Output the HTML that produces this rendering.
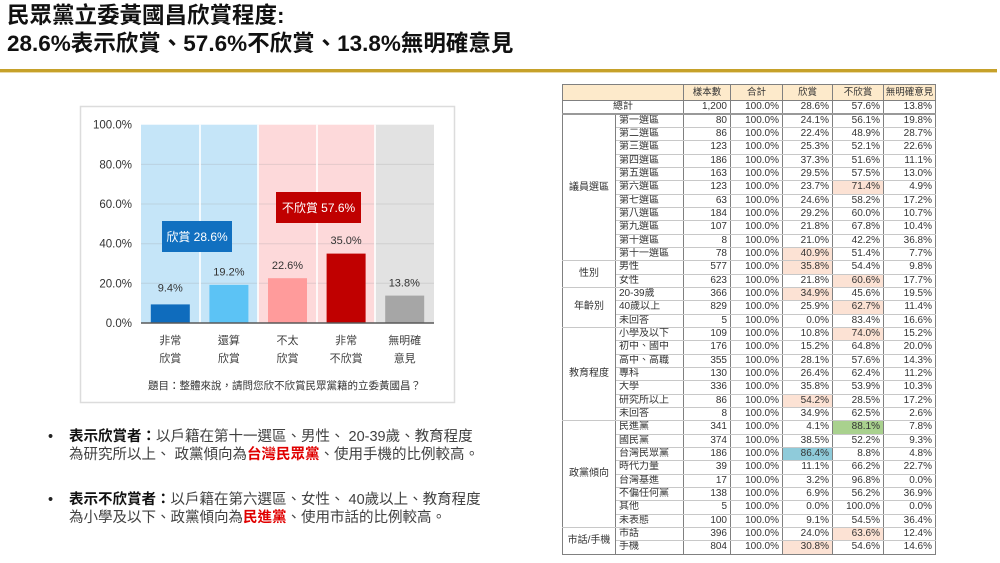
<!DOCTYPE html>
<html><head><meta charset="utf-8">
<style>
*{margin:0;padding:0;box-sizing:border-box}
body{width:1000px;height:563px;background:#fff;position:relative;overflow:hidden;font-family:"Liberation Sans","Noto Sans CJK TC",sans-serif}
.title{position:absolute;left:7px;top:2px;font-size:22.5px;line-height:28px;font-weight:bold;color:#111;white-space:nowrap;letter-spacing:0}
.gold{position:absolute;left:0;top:69px;width:997px;height:3px;background:#c6a12a}
.gold2{position:absolute;left:0;top:72px;width:997px;height:1px;background:#ead9a6}
.bul{position:absolute;left:48px;font-size:14.5px;line-height:18px;color:#404040;white-space:nowrap}
.bul .dot{position:absolute;left:0;top:0;color:#222}
.bul .tx{position:absolute;left:21px;top:0}
.bul b{color:#111}
.bul .r{color:#e00000;font-weight:bold}
table{position:absolute;left:562px;top:84px;width:373px;border-collapse:collapse;table-layout:fixed;font-size:10px;color:#333;font-family:"Liberation Sans","Noto Sans CJK TC",sans-serif}
td{padding:0 3px;line-height:12px;border-left:1px solid #808080;border-right:1px solid #808080;border-top:1px solid #c8c8c8;border-bottom:1px solid #c8c8c8;white-space:nowrap;overflow:hidden}
td.n{text-align:right}
td.l{text-align:left}
td.c{text-align:center}
tr.h td{background:#fdeacb;text-align:center;border-top:1px solid #808080;border-bottom:1px solid #808080;font-size:9.5px}
tr.h{height:16px}
tr.t{height:12px}
tr.t td{border-bottom:2px solid #999}
tr.d{height:13.33px}
tr.g td{border-top:1px solid #808080}
tr.last td{border-bottom:1px solid #808080}
.p{background:#fce2d4}
.gr{background:#a9d18e}
.bl{background:#8fcbda}
</style></head><body>
<div class="title">民眾黨立委黃國昌欣賞程度:<br>28.6%表示欣賞、57.6%不欣賞、13.8%無明確意見</div>
<div class="gold"></div><div class="gold2"></div>

<svg style="position:absolute;left:0;top:0" width="1000" height="563" xmlns="http://www.w3.org/2000/svg">
<rect x="80.5" y="106.5" width="374" height="296" fill="#fff" stroke="#dcdcdc" stroke-width="1.5"/>
<rect x="141" y="124.7" width="117" height="198.3" fill="#c5e5f8"/>
<rect x="258" y="124.7" width="117" height="198.3" fill="#fdd9da"/>
<rect x="375" y="124.7" width="59" height="198.3" fill="#e2e2e2"/>
<g stroke="#9a9a9a" stroke-opacity="0.25" stroke-width="1">
<line x1="141" x2="434" y1="164.4" y2="164.4"/>
<line x1="141" x2="434" y1="204" y2="204"/>
<line x1="141" x2="434" y1="243.7" y2="243.7"/>
<line x1="141" x2="434" y1="283.3" y2="283.3"/>
</g>
<rect x="199.2" y="124.7" width="1.6" height="198.3" fill="#fff"/>
<rect x="257.2" y="124.7" width="1.6" height="198.3" fill="#fff"/>
<rect x="316.2" y="124.7" width="1.6" height="198.3" fill="#fff"/>
<rect x="374.2" y="124.7" width="1.6" height="198.3" fill="#fff"/>
<g font-family="Liberation Sans, Noto Sans CJK TC, sans-serif" font-size="11.5" fill="#333" text-anchor="end">
<text x="132" y="128.7">100.0%</text>
<text x="132" y="168.4">80.0%</text>
<text x="132" y="208">60.0%</text>
<text x="132" y="247.7">40.0%</text>
<text x="132" y="287.3">20.0%</text>
<text x="132" y="327">0.0%</text>
</g>
<rect x="150.8" y="304.4" width="39" height="18.6" fill="#0f6cbd"/>
<rect x="209.4" y="284.9" width="39" height="38.1" fill="#5cc3f5"/>
<rect x="268" y="278.2" width="39" height="44.8" fill="#ff9b9b"/>
<rect x="326.6" y="253.6" width="39" height="69.4" fill="#c00000"/>
<rect x="385.2" y="295.6" width="39" height="27.4" fill="#a6a6a6"/>
<line x1="141" x2="434" y1="323" y2="323" stroke="#595959" stroke-width="1.5"/>
<g font-family="Liberation Sans, Noto Sans CJK TC, sans-serif" font-size="11" fill="#333" text-anchor="middle">
<text x="170.3" y="291.7">9.4%</text>
<text x="228.9" y="275.7">19.2%</text>
<text x="287.5" y="269">22.6%</text>
<text x="346.1" y="244">35.0%</text>
<text x="404.3" y="286.7">13.8%</text>
</g>
<rect x="162" y="221" width="70" height="31" fill="#1170c0"/>
<text x="197" y="240.8" font-family="Liberation Sans, Noto Sans CJK TC, sans-serif" font-size="12" fill="#fff" text-anchor="middle">欣賞 28.6%</text>
<rect x="276" y="192" width="85" height="31" fill="#c00000"/>
<text x="318.5" y="211.8" font-family="Liberation Sans, Noto Sans CJK TC, sans-serif" font-size="12" fill="#fff" text-anchor="middle">不欣賞 57.6%</text>
<g font-family="Liberation Sans, Noto Sans CJK TC, sans-serif" font-size="11" fill="#404040" text-anchor="middle">
<text x="170.3" y="344">非常</text><text x="170.3" y="362">欣賞</text>
<text x="228.9" y="344">還算</text><text x="228.9" y="362">欣賞</text>
<text x="287.5" y="344">不太</text><text x="287.5" y="362">欣賞</text>
<text x="346.1" y="344">非常</text><text x="346.1" y="362">不欣賞</text>
<text x="404.7" y="344">無明確</text><text x="404.7" y="362">意見</text>
</g>
<text x="284.5" y="389" font-family="Liberation Sans, Noto Sans CJK TC, sans-serif" font-size="10.5" fill="#333" text-anchor="middle">題目：整體來說，請問您欣不欣賞民眾黨籍的立委黃國昌？</text>
</svg>

<div class="bul" style="top:428px"><span class="dot">•</span><div class="tx"><b>表示欣賞者：</b>以戶籍在第十一選區、男性、 20-39歲、教育程度<br>為研究所以上、 政黨傾向為<span class="r">台灣民眾黨</span>、使用手機的比例較高。</div></div>
<div class="bul" style="top:491px"><span class="dot">•</span><div class="tx"><b>表示不欣賞者：</b>以戶籍在第六選區、女性、 40歲以上、教育程度<br>為小學及以下、政黨傾向為<span class="r">民進黨</span>、使用市話的比例較高。</div></div>

<table>
<colgroup><col style="width:53px"><col style="width:68px"><col style="width:47px"><col style="width:52px"><col style="width:50px"><col style="width:51px"><col style="width:52px"></colgroup>
<tr class="h"><td colspan="2"></td><td>樣本數</td><td>合計</td><td>欣賞</td><td>不欣賞</td><td style="padding:0">無明確意見</td></tr>
<tr class="t"><td colspan="2" class="c">總計</td><td class="n">1,200</td><td class="n">100.0%</td><td class="n">28.6%</td><td class="n">57.6%</td><td class="n">13.8%</td></tr>
<tr class="d g"><td rowspan="11" class="c">議員選區</td><td class="l">第一選區</td><td class="n">80</td><td class="n">100.0%</td><td class="n">24.1%</td><td class="n">56.1%</td><td class="n">19.8%</td></tr>
<tr class="d"><td class="l">第二選區</td><td class="n">86</td><td class="n">100.0%</td><td class="n">22.4%</td><td class="n">48.9%</td><td class="n">28.7%</td></tr>
<tr class="d"><td class="l">第三選區</td><td class="n">123</td><td class="n">100.0%</td><td class="n">25.3%</td><td class="n">52.1%</td><td class="n">22.6%</td></tr>
<tr class="d"><td class="l">第四選區</td><td class="n">186</td><td class="n">100.0%</td><td class="n">37.3%</td><td class="n">51.6%</td><td class="n">11.1%</td></tr>
<tr class="d"><td class="l">第五選區</td><td class="n">163</td><td class="n">100.0%</td><td class="n">29.5%</td><td class="n">57.5%</td><td class="n">13.0%</td></tr>
<tr class="d"><td class="l">第六選區</td><td class="n">123</td><td class="n">100.0%</td><td class="n">23.7%</td><td class="n p">71.4%</td><td class="n">4.9%</td></tr>
<tr class="d"><td class="l">第七選區</td><td class="n">63</td><td class="n">100.0%</td><td class="n">24.6%</td><td class="n">58.2%</td><td class="n">17.2%</td></tr>
<tr class="d"><td class="l">第八選區</td><td class="n">184</td><td class="n">100.0%</td><td class="n">29.2%</td><td class="n">60.0%</td><td class="n">10.7%</td></tr>
<tr class="d"><td class="l">第九選區</td><td class="n">107</td><td class="n">100.0%</td><td class="n">21.8%</td><td class="n">67.8%</td><td class="n">10.4%</td></tr>
<tr class="d"><td class="l">第十選區</td><td class="n">8</td><td class="n">100.0%</td><td class="n">21.0%</td><td class="n">42.2%</td><td class="n">36.8%</td></tr>
<tr class="d"><td class="l">第十一選區</td><td class="n">78</td><td class="n">100.0%</td><td class="n p">40.9%</td><td class="n">51.4%</td><td class="n">7.7%</td></tr>
<tr class="d g"><td rowspan="2" class="c">性別</td><td class="l">男性</td><td class="n">577</td><td class="n">100.0%</td><td class="n p">35.8%</td><td class="n">54.4%</td><td class="n">9.8%</td></tr>
<tr class="d"><td class="l">女性</td><td class="n">623</td><td class="n">100.0%</td><td class="n">21.8%</td><td class="n p">60.6%</td><td class="n">17.7%</td></tr>
<tr class="d g"><td rowspan="3" class="c">年齡別</td><td class="l">20-39歲</td><td class="n">366</td><td class="n">100.0%</td><td class="n p">34.9%</td><td class="n">45.6%</td><td class="n">19.5%</td></tr>
<tr class="d"><td class="l">40歲以上</td><td class="n">829</td><td class="n">100.0%</td><td class="n">25.9%</td><td class="n p">62.7%</td><td class="n">11.4%</td></tr>
<tr class="d"><td class="l">未回答</td><td class="n">5</td><td class="n">100.0%</td><td class="n">0.0%</td><td class="n">83.4%</td><td class="n">16.6%</td></tr>
<tr class="d g"><td rowspan="7" class="c">教育程度</td><td class="l">小學及以下</td><td class="n">109</td><td class="n">100.0%</td><td class="n">10.8%</td><td class="n p">74.0%</td><td class="n">15.2%</td></tr>
<tr class="d"><td class="l">初中、國中</td><td class="n">176</td><td class="n">100.0%</td><td class="n">15.2%</td><td class="n">64.8%</td><td class="n">20.0%</td></tr>
<tr class="d"><td class="l">高中、高職</td><td class="n">355</td><td class="n">100.0%</td><td class="n">28.1%</td><td class="n">57.6%</td><td class="n">14.3%</td></tr>
<tr class="d"><td class="l">專科</td><td class="n">130</td><td class="n">100.0%</td><td class="n">26.4%</td><td class="n">62.4%</td><td class="n">11.2%</td></tr>
<tr class="d"><td class="l">大學</td><td class="n">336</td><td class="n">100.0%</td><td class="n">35.8%</td><td class="n">53.9%</td><td class="n">10.3%</td></tr>
<tr class="d"><td class="l">研究所以上</td><td class="n">86</td><td class="n">100.0%</td><td class="n p">54.2%</td><td class="n">28.5%</td><td class="n">17.2%</td></tr>
<tr class="d"><td class="l">未回答</td><td class="n">8</td><td class="n">100.0%</td><td class="n">34.9%</td><td class="n">62.5%</td><td class="n">2.6%</td></tr>
<tr class="d g"><td rowspan="8" class="c">政黨傾向</td><td class="l">民進黨</td><td class="n">341</td><td class="n">100.0%</td><td class="n">4.1%</td><td class="n gr">88.1%</td><td class="n">7.8%</td></tr>
<tr class="d"><td class="l">國民黨</td><td class="n">374</td><td class="n">100.0%</td><td class="n">38.5%</td><td class="n">52.2%</td><td class="n">9.3%</td></tr>
<tr class="d"><td class="l">台灣民眾黨</td><td class="n">186</td><td class="n">100.0%</td><td class="n bl">86.4%</td><td class="n">8.8%</td><td class="n">4.8%</td></tr>
<tr class="d"><td class="l">時代力量</td><td class="n">39</td><td class="n">100.0%</td><td class="n">11.1%</td><td class="n">66.2%</td><td class="n">22.7%</td></tr>
<tr class="d"><td class="l">台灣基進</td><td class="n">17</td><td class="n">100.0%</td><td class="n">3.2%</td><td class="n">96.8%</td><td class="n">0.0%</td></tr>
<tr class="d"><td class="l">不偏任何黨</td><td class="n">138</td><td class="n">100.0%</td><td class="n">6.9%</td><td class="n">56.2%</td><td class="n">36.9%</td></tr>
<tr class="d"><td class="l">其他</td><td class="n">5</td><td class="n">100.0%</td><td class="n">0.0%</td><td class="n">100.0%</td><td class="n">0.0%</td></tr>
<tr class="d"><td class="l">未表態</td><td class="n">100</td><td class="n">100.0%</td><td class="n">9.1%</td><td class="n">54.5%</td><td class="n">36.4%</td></tr>
<tr class="d g"><td rowspan="2" class="c" style="border-bottom:1px solid #808080">市話/手機</td><td class="l">市話</td><td class="n">396</td><td class="n">100.0%</td><td class="n">24.0%</td><td class="n p">63.6%</td><td class="n">12.4%</td></tr>
<tr class="d last"><td class="l">手機</td><td class="n">804</td><td class="n">100.0%</td><td class="n p">30.8%</td><td class="n">54.6%</td><td class="n">14.6%</td></tr>
</table>
</body></html>
